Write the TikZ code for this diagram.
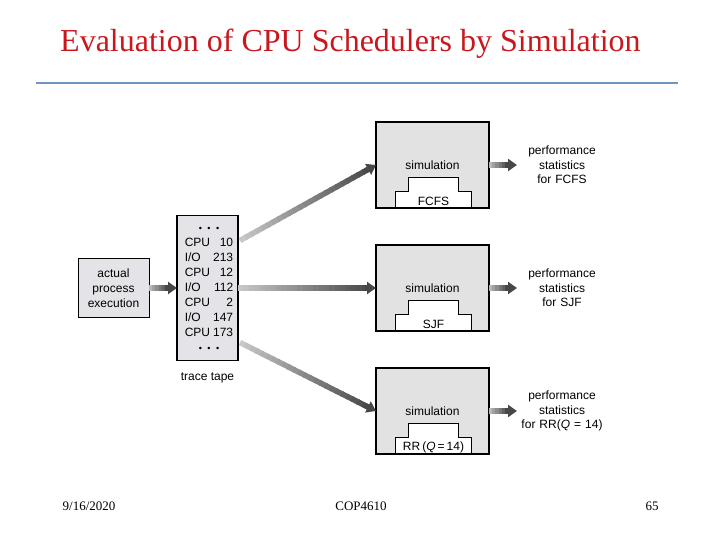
\documentclass[tikz,border=0pt]{standalone}
\usepackage{fontspec}
\setmainfont{Liberation Serif}
\setsansfont{Liberation Sans}
\usetikzlibrary{arrows.meta, positioning, calc}
\definecolor{titleRed}{RGB}{200,24,30}
\definecolor{ruleBlue}{RGB}{112,150,190}
\definecolor{boxGray}{RGB}{228,227,231}
\definecolor{simGray}{RGB}{226,226,226}

% three small dots on the tape
\newcommand{\tapedots}{{\fontsize{9}{9}\selectfont\textbullet\hspace{5.5pt}\textbullet\hspace{5.5pt}\textbullet}}

% grey arrow, light at the tail and dark at the head
\newcommand{\gradarrow}[3][24]{%
  \coordinate (ga-tail) at (#2);
  \coordinate (ga-neck) at ($(#3)!9pt!(#2)$);
  \foreach \i in {1,...,#1}{%
    \pgfmathsetmacro{\ta}{(\i-1)/#1}%
    \pgfmathsetmacro{\tb}{min(1,(\i+0.3)/#1)}%
    \pgfmathsetmacro{\gv}{20+50*\i/#1}%
    \draw[line width=5.5pt, draw=black!\gv] ($(ga-tail)!\ta!(ga-neck)$) -- ($(ga-tail)!\tb!(ga-neck)$);
  }%
  \draw[-{Triangle[length=9pt,width=12pt]}, line width=5.5pt, black!72] ($(#3)!12pt!(#2)$) -- (#3);
}

\begin{document}
\begin{tikzpicture}[x=1pt, y=-1pt,
  txt/.style={font=\sffamily\fontsize{12}{15}\selectfont},
  box/.style={txt, draw=black, fill=boxGray, align=center, inner sep=0pt, outer sep=0pt},
  simbox/.style={txt, draw=black, line width=1.6pt, fill=simGray, minimum width=113pt, minimum height=86pt, inner sep=0pt, outer sep=0pt},
  stat/.style={font=\sffamily\fontsize{12}{14.5}\selectfont, align=center, text width=90pt, inner sep=0pt, outer sep=0pt},
  foot/.style={font=\fontsize{13}{15}\selectfont, anchor=base, inner sep=0pt}]
\useasboundingbox (0,0) rectangle (720,540);

% title and rule
\node[anchor=base west, text=titleRed, font=\fontsize{32}{36}\selectfont, inner sep=0pt] (title) at (60,52) {Evaluation of CPU Schedulers by Simulation};
\draw[ruleBlue, line width=2pt] (36,83) -- (678,83);

% process and trace tape
\node[box, line width=0.8pt, minimum width=71pt, minimum height=59pt] (exec) at (113.5,288) {actual\\process\\execution};
\node[box, line width=1.6pt, minimum width=61pt, minimum height=145pt] (tape) at (207.5,288)
  {\hspace{3pt}\begin{tabular}{@{}l@{\hspace{3pt}}r@{}}
    \multicolumn{2}{c}{\tapedots}\\
    CPU & 10\\
    I/O & 213\\
    CPU & 12\\
    I/O & 112\\
    CPU & 2\\
    I/O & 147\\
    CPU & 173\\
    \multicolumn{2}{c}{\tapedots}
  \end{tabular}};
\node[txt, below=9pt of tape] (tapelbl) {trace tape};

% simulators
\node[simbox] (sim1) at (432.5,165) {simulation};
\node[simbox] (sim2) at (432.5,288) {simulation};
\node[simbox] (sim3) at (432.5,411) {simulation};
\foreach \s/\alg in {sim1/FCFS, sim2/SJF, sim3/{RR\,(\textit{Q}\,=\,14)}}{
  \draw[fill=white, line width=0.8pt] ($(\s.south)+(-37,0)$) -- ++(0,-17) -- ++(13,0) -- ++(0,-14) -- ++(50,0) -- ++(0,14) -- ++(13,0) -- ++(0,17);
  \draw[line width=1.6pt] (\s.south west) rectangle (\s.north east);
  \node[txt, inner sep=0pt] (\s-alg) at ($(\s.south)+(1,-7)$) {\alg};
}

% results
\node[stat] (perf1) at (562,165) {performance\\statistics\\for FCFS};
\node[stat] (perf2) at (562,288) {performance\\statistics\\for SJF};
\node[stat] (perf3) at (562,411) {performance\\statistics\\for RR(\textit{Q} = 14)};

% arrows
\coordinate (t1) at ($(tape.north east)+(2,25)$);
\coordinate (t3) at ($(tape.south east)+(2,-18)$);
\gradarrow[6]{exec.east}{tape.west}
\gradarrow{t1}{sim1.west}
\gradarrow{tape.east}{sim2.west}
\gradarrow{t3}{sim3.west}
\gradarrow[6]{sim1.east}{perf1.west}
\gradarrow[6]{sim2.east}{perf2.west}
\gradarrow[6]{sim3.east}{perf3.west}

% footer
\node[foot] (date) at (89,510) {9/16/2020};
\node[foot] (course) at (361,510) {COP4610};
\node[foot] (page) at (652,510) {65};
\end{tikzpicture}
\end{document}
